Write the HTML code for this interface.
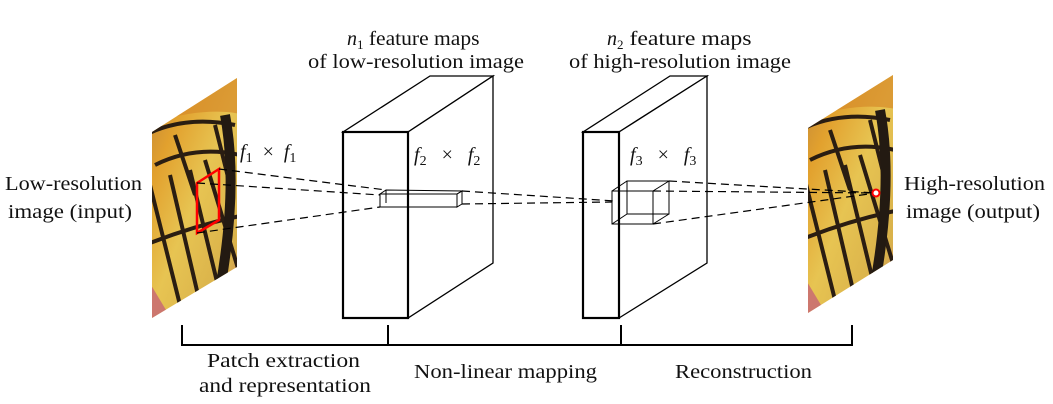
<!DOCTYPE html>
<html><head><meta charset="utf-8"><style>
html,body{margin:0;padding:0;background:#fff;}
svg{display:block;}
text{font-family:"Liberation Serif",serif;font-size:20px;fill:#111;}
.it{font-style:italic;}
</style></head><body>
<svg width="1053" height="404" viewBox="0 0 1053 404" xmlns="http://www.w3.org/2000/svg">
<defs>
<linearGradient id="bf" x1="0" y1="0" x2="1" y2="1">
<stop offset="0" stop-color="#b9813a"/><stop offset="0.25" stop-color="#e2a12e"/>
<stop offset="0.5" stop-color="#e7c452"/><stop offset="0.8" stop-color="#d9b14a"/><stop offset="1" stop-color="#c06a80"/>
</linearGradient>
<clipPath id="c1"><polygon points="152,132 237,78 237,267 152,318"/></clipPath>
<clipPath id="c2"><polygon points="808,128 893,75 893,260 808,313"/></clipPath>
<g id="wing">
<rect x="0" y="0" width="100" height="250" fill="url(#bf)"/>
<path d="M0,60 Q40,40 90,50 M10,90 Q50,70 95,80 M5,110 L40,250 M25,100 L60,250 M45,95 L80,240 M60,85 L95,200 M0,170 Q50,150 100,140 M30,60 L50,120 M70,50 L85,110" stroke="#2a1d12" stroke-width="4" fill="none"/>
<path d="M0,0 L100,0 L100,40 Q60,30 0,50 Z" fill="#d58a2a" opacity="0.7"/>
<path d="M80,40 Q95,120 70,240" stroke="#231a12" stroke-width="10" fill="none"/>
<path d="M0,200 L0,250 L30,250 Z" fill="#c2577a" opacity="0.7"/>
</g>
</defs>
<g clip-path="url(#c1)"><use href="#wing" transform="translate(145,75)"/></g>
<polygon points="219,169 197,183 197,233 219,220" fill="none" stroke="#f00" stroke-width="2.5"/>
<polygon points="343,132 430,76 493,76 408,132" fill="#fff" stroke="#000" stroke-width="1.3"/>
<polygon points="408,132 493,76 493,263 408,318" fill="#fff" stroke="#000" stroke-width="1.3"/>
<rect x="343" y="132" width="65" height="186" fill="#fff" stroke="#000" stroke-width="2.2"/>
<polygon points="583,132 670,76 707,76 619,132" fill="#fff" stroke="#000" stroke-width="1.3"/>
<polygon points="619,132 707,76 707,263 619,318" fill="#fff" stroke="#000" stroke-width="1.3"/>
<rect x="583" y="132" width="36" height="186" fill="#fff" stroke="#000" stroke-width="2.2"/>
<g fill="none" stroke="#000" stroke-width="1">
<rect x="380" y="194" width="77" height="13"/>
<polygon points="380,194 386,190 462,191 457,194"/>
<polygon points="457,194 462,191 462,204 457,207"/>
<line x1="386" y1="190" x2="386" y2="203"/>
<rect x="612" y="191" width="41" height="33"/>
<rect x="627" y="181" width="42" height="33"/>
<line x1="612" y1="191" x2="627" y2="181"/><line x1="653" y1="191" x2="669" y2="181"/>
<line x1="612" y1="224" x2="627" y2="214"/><line x1="653" y1="224" x2="669" y2="214"/>
</g>
<g clip-path="url(#c2)"><use href="#wing" transform="translate(800,70)"/></g>
<g stroke="#000" stroke-width="1.2" stroke-dasharray="8,5" fill="none">
<line x1="219" y1="169" x2="386" y2="190"/>
<line x1="197" y1="183" x2="380" y2="195"/>
<line x1="197" y1="233" x2="380" y2="207"/>
<line x1="462" y1="191" x2="615" y2="201"/>
<line x1="462" y1="204" x2="612" y2="202"/>
<line x1="669" y1="181" x2="876" y2="193"/>
<line x1="653" y1="191" x2="876" y2="193"/>
<line x1="653" y1="224" x2="876" y2="193"/>
</g>
<circle cx="876" cy="193" r="3.5" fill="#fff" stroke="#f00" stroke-width="2"/>
<path d="M182,325 L182,345 L852,345 L852,325 M388,325 L388,345 M621,325 L621,345" stroke="#000" stroke-width="2" fill="none"/>
<text x="5" y="190" textLength="137" lengthAdjust="spacingAndGlyphs">Low-resolution</text>
<text x="8" y="218" textLength="124" lengthAdjust="spacingAndGlyphs">image (input)</text>
<text x="904" y="190" textLength="141" lengthAdjust="spacingAndGlyphs">High-resolution</text>
<text x="906" y="218" textLength="134" lengthAdjust="spacingAndGlyphs">image (output)</text>
<text x="308" y="68" textLength="216" lengthAdjust="spacingAndGlyphs">of low-resolution image</text>
<text x="569" y="68" textLength="222" lengthAdjust="spacingAndGlyphs">of high-resolution image</text>
<text x="207" y="367" textLength="153" lengthAdjust="spacingAndGlyphs">Patch extraction</text>
<text x="199" y="392" textLength="172" lengthAdjust="spacingAndGlyphs">and representation</text>
<text x="414" y="378" textLength="183" lengthAdjust="spacingAndGlyphs">Non-linear mapping</text>
<text x="675" y="378" textLength="137" lengthAdjust="spacingAndGlyphs">Reconstruction</text>
<text x="347" y="45"><tspan class="it">n</tspan><tspan font-size="13" dy="4">1</tspan><tspan dy="-4" textLength="116" lengthAdjust="spacingAndGlyphs"> feature maps</tspan></text>
<text x="607" y="45"><tspan class="it">n</tspan><tspan font-size="13" dy="4">2</tspan><tspan dy="-4" textLength="128" lengthAdjust="spacingAndGlyphs"> feature maps</tspan></text>
<text x="240" y="158" font-size="22"><tspan class="it">f</tspan><tspan font-size="14" dy="4">1</tspan><tspan dy="-4" xml:space="preserve">  ×  </tspan><tspan class="it">f</tspan><tspan font-size="14" dy="4">1</tspan></text>
<text x="414" y="161" font-size="22" xml:space="preserve"><tspan class="it">f</tspan><tspan font-size="14" dy="4">2</tspan><tspan dy="-4">   ×   </tspan><tspan class="it">f</tspan><tspan font-size="14" dy="4">2</tspan></text>
<text x="630" y="161" font-size="22" xml:space="preserve"><tspan class="it">f</tspan><tspan font-size="14" dy="4">3</tspan><tspan dy="-4">   ×   </tspan><tspan class="it">f</tspan><tspan font-size="14" dy="4">3</tspan></text>
</svg>
</body></html>
